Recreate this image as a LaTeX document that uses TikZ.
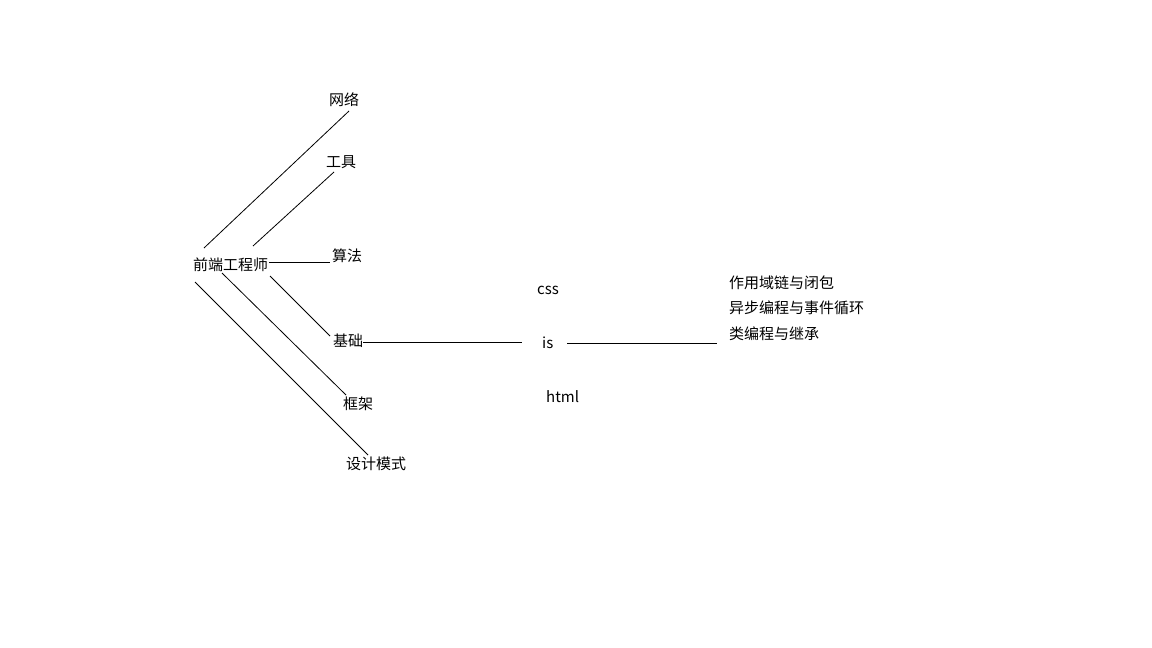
\documentclass[tikz,border=0pt]{standalone}
\usepackage{fontspec}
\setmainfont{Noto Sans CJK SC}
\begin{document}
\begin{tikzpicture}[x=1pt,y=-1pt,
  lbl/.style={inner sep=0pt,anchor=west,font=\fontsize{15}{18}\selectfont},
  wrd/.style={inner sep=0pt,anchor=base west,font=\fontsize{15}{18}\selectfont},
  link/.style={line width=0.8pt,black}]
\useasboundingbox[fill=white] (0,0) rectangle (1152,648);

% root and first-level topics
\node[lbl] (root) at (193,265) {前端工程师};
\node[lbl] (net)  at (329,100) {网络};
\node[lbl] (tool) at (326,162) {工具};
\node[lbl] (algo) at (332,256) {算法};
\node[lbl] (base) at (333,341) {基础};
\node[lbl] (fw)   at (343,404) {框架};
\node[lbl] (dp)   at (346,464) {设计模式};

% basics
\node[wrd] (css)  at (537,294) {css};
\node[wrd] (js)   at (542,348) {is};
\node[wrd] (html) at (546,402) {html};

% javascript topics
\node[lbl] (scope) at (729,283) {作用域链与闭包};
\node[lbl] (async) at (729,308) {异步编程与事件循环};
\node[lbl] (cls)   at (729,334) {类编程与继承};

% connector end points
\coordinate (r1) at (204,248);  \coordinate (n1) at (349,111);
\coordinate (r2) at (253,246);  \coordinate (t1) at (334,172);
\coordinate (r3) at (269,262);  \coordinate (a1) at (330,262);
\coordinate (r4) at (270,276);  \coordinate (b1) at (330,336);
\coordinate (r5) at (222,273);  \coordinate (f1) at (346,395);
\coordinate (r6) at (195,282);  \coordinate (d1) at (368,455);
\coordinate (b2) at (363,342);  \coordinate (j1) at (522,342);
\coordinate (j2) at (567,343);  \coordinate (c1) at (717,343);

\draw[link] (r1) -- (n1);
\draw[link] (r2) -- (t1);
\draw[link] (r3) -- (a1);
\draw[link] (r4) -- (b1);
\draw[link] (r5) -- (f1);
\draw[link] (r6) -- (d1);
\draw[link] (b2) -- (j1);
\draw[link] (j2) -- (c1);
\end{tikzpicture}
\end{document}
